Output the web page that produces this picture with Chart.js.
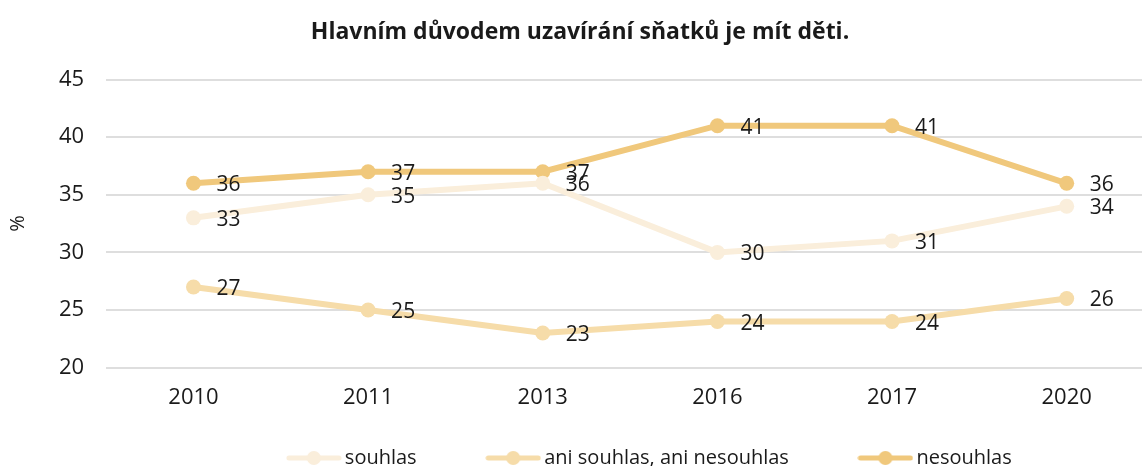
<!DOCTYPE html>
<html><head><meta charset="utf-8">
<script src="https://cdn.jsdelivr.net/npm/chart.js@4"></script>
<style>html,body{margin:0;padding:0;overflow:hidden;background:#fff}#wrap{width:1174px;height:478px;position:relative}</style>
</head><body><div id="wrap"><canvas id="c"></canvas></div>
<script>
const categories = ['2010','2011','2013','2016','2017','2020'];
const souhlas = [33,35,36,30,31,34];
const aniAni = [27,25,23,24,24,26];
const nesouhlas = [36,37,37,41,41,36];
const seriesNames = ['souhlas','ani souhlas, ani nesouhlas','nesouhlas'];
const colors = ['#FAEEDB','#F6DCA9','#F0C87C'];
const FONT = "'Open Sans', sans-serif";
const GAP = '             '; // spacing between legend entries
const TAIL = '   ';

function legendImg(color){
  const c = document.createElement('canvas');
  c.width = 56; c.height = 16;
  const g = c.getContext('2d');
  if (color) {
    g.strokeStyle = color; g.lineWidth = 5; g.lineCap='round';
    g.beginPath(); g.moveTo(3,8); g.lineTo(53,8); g.stroke();
    g.fillStyle = color; g.beginPath(); g.arc(28,8,7,0,Math.PI*2); g.fill();
  }
  return c;
}

const labelPlugin = {
  id:'vlabels',
  afterDatasetsDraw(chart){
    const ctx = chart.ctx;
    ctx.save();
    ctx.font = "21px " + FONT;
    ctx.fillStyle = '#1a1a1a';
    ctx.textAlign = 'left';
    ctx.textBaseline = 'middle';
    chart.data.datasets.forEach((ds,i)=>{
      const meta = chart.getDatasetMeta(i);
      meta.data.forEach((pt,j)=>{
        ctx.fillText(String(ds.data[j]), pt.x + 23, pt.y + 2);
      });
    });
    ctx.restore();
  }
};

const dataSeries = [souhlas, aniAni, nesouhlas];
new Chart(document.getElementById('c'), {
  type:'line',
  data:{
    labels: categories,
    datasets: dataSeries.map((d,i)=>({
      label: seriesNames[i],
      data: d,
      borderColor: colors[i],
      backgroundColor: colors[i],
      borderWidth: 6,
      pointRadius: 7.5,
      pointHoverRadius: 7.5,
      pointBackgroundColor: colors[i],
      pointBorderWidth: 0,
      pointStyle: 'circle',
      tension: 0
    }))
  },
  options:{
    responsive:true, maintainAspectRatio:false, animation:false,
    layout:{padding:{left:6,right:20,top:0,bottom:0}},
    plugins:{
      title:{display:true,text:'Hlavním důvodem uzavírání sňatků je mít děti.',
        font:{family:FONT,size:23,weight:'bold'},color:'#1a1a1a',padding:{top:19,bottom:33}},
      legend:{position:'bottom',fullSize:false,
        labels:{usePointStyle:true,pointStyleWidth:42,font:{family:FONT,size:20},color:'#1a1a1a',padding:8,
          generateLabels(chart){
            const n = chart.data.datasets.length;
            const items = chart.data.datasets.map((ds,i)=>({text:ds.label + (i < n-1 ? GAP : TAIL),pointStyle:legendImg(colors[i]),fillStyle:colors[i],strokeStyle:colors[i],lineWidth:0,hidden:false,datasetIndex:i,fontColor:'#1a1a1a'}));
            items.unshift({text:'',pointStyle:legendImg(null),fillStyle:'rgba(0,0,0,0)',strokeStyle:'rgba(0,0,0,0)',lineWidth:0,hidden:false,fontColor:'rgba(0,0,0,0)'});
            return items;
          }}},
      tooltip:{enabled:false}
    },
    scales:{
      x:{offset:true,grid:{display:false},border:{display:false},
        ticks:{font:{family:FONT,size:22},color:'#1a1a1a',padding:9},
        afterFit(scale){ scale.height += 20; }},
      y:{min:20,max:45,border:{display:false},
        grid:{color:'#dedede',lineWidth:2,drawTicks:false},
        ticks:{stepSize:5,font:{family:FONT,size:22},color:'#1a1a1a',padding:22},
        title:{display:true,text:'%',font:{family:FONT,size:20},color:'#1a1a1a',padding:{top:0,bottom:7}}}
    }
  },
  plugins:[labelPlugin]
});
</script></body></html>
